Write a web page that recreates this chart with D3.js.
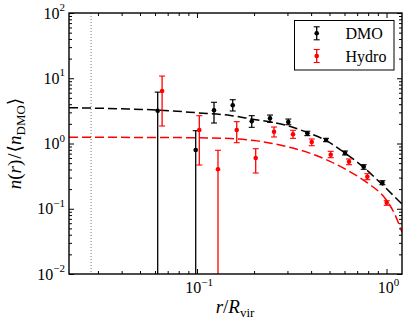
<!DOCTYPE html>
<html>
<head>
<meta charset="utf-8">
<script src="https://cdn.jsdelivr.net/npm/d3@7"></script>
<style>
  body { margin: 0; background: #fff; }
  svg { display: block; }
  text { font-family: "Liberation Serif", "DejaVu Serif", serif; fill: #000; }
</style>
</head>
<body>
<svg id="chart" width="407" height="326"></svg>
<script>
// ---- data ----
const dmoR   = [0.0620, 0.0984, 0.1229, 0.1543, 0.1944, 0.2427, 0.3032, 0.382, 0.4795, 0.604, 0.758, 0.951];
const dmoN   = [3.18, 0.795, 3.23, 3.85, 2.19, 2.43, 2.14, 1.43, 1.13, 0.715, 0.441, 0.2507];
const dmoHi  = [6.13, 1.571, 4.28, 4.69, 2.67, 2.73, 2.37, 1.54, 1.20, 0.768, 0.473, 0.269];
const dmoLo  = [0, 0, 2.06, 3.15, 1.77, 2.11, 1.94, 1.32, 1.066, 0.667, 0.402, 0.2336];

const hydroR  = [0.0654, 0.1028, 0.129, 0.162, 0.204, 0.2549, 0.3210, 0.4030, 0.5075, 0.634, 0.792, 1.0025];
const hydroN  = [6.38, 1.61, 0.402, 1.61, 0.5995, 1.516, 1.384, 1.054, 0.674, 0.526, 0.310, 0.1238];
const hydroHi = [10.8, 2.67, 0.787, 2.16, 0.832, 1.79, 1.594, 1.172, 0.759, 0.579, 0.3445, 0.1328];
const hydroLo = [1.854, 0.468, 0, 1.029, 0.353, 1.258, 1.201, 0.925, 0.606, 0.473, 0.279, 0.113];

const dmoFitR   = [0.0211, 0.04, 0.062, 0.1, 0.15, 0.2, 0.25, 0.3, 0.38, 0.48, 0.6, 0.76, 0.95, 1.207];
const dmoFitN   = [3.54, 3.40, 3.26, 2.96, 2.69, 2.34, 2.11, 1.88, 1.48, 1.11, 0.724, 0.427, 0.234, 0.118];
const hydroFitR = [0.0211, 0.05, 0.1, 0.15, 0.2, 0.25, 0.32, 0.4, 0.5, 0.63, 0.79, 1.0, 1.1, 1.207];
const hydroFitN = [1.245, 1.239, 1.225, 1.189, 1.109, 1.0, 0.851, 0.700, 0.537, 0.380, 0.251, 0.135, 0.085, 0.0437];

const resolutionR = 0.0276;

const xMajor = [0.1, 1];
const xMajorExp = ["−1", "0"];
const yMajor = [0.01, 0.1, 1, 10, 100];
const yMajorExp = ["−2", "−1", "0", "1", "2"];
const seriesNames = ["DMO", "Hydro"];
const seriesColors = ["#000000", "#ff0000"];

// ---- layout ----
const L = 69, R = 402, T = 13, B = 274;
const x = d3.scaleLog().domain([0.0211, 1.207]).range([L, R]);
const y = d3.scaleLog().domain([0.01, 100]).range([B, T]);

const svg = d3.select("#chart");
svg.append("defs").append("clipPath").attr("id", "clip")
  .append("rect").attr("x", L).attr("y", T).attr("width", R - L).attr("height", B - T);

const xMinor = [];
[0.01, 0.1].forEach(d => { for (let k = 2; k <= 9; k++) { const v = d * k; if (v > 0.0211 && v < 1.207) xMinor.push(v); } });
const yMinor = [];
[0.01, 0.1, 1, 10].forEach(d => { for (let k = 2; k <= 9; k++) yMinor.push(d * k); });

function styleAxis(g) {
  g.select(".domain").remove();
  g.selectAll("text").remove();
  g.selectAll("line").attr("stroke", "#000").attr("stroke-width", 1);
}
function addAxis(axisFn, scale, vals, size, tx, ty) {
  svg.append("g").attr("transform", `translate(${tx},${ty})`)
    .call(axisFn(scale).tickValues(vals).tickSize(-size).tickFormat(""))
    .call(styleAxis);
}
addAxis(d3.axisBottom, x, xMajor, 5, 0, B);
addAxis(d3.axisBottom, x, xMinor, 3, 0, B);
addAxis(d3.axisTop, x, xMajor, 5, 0, T);
addAxis(d3.axisTop, x, xMinor, 3, 0, T);
addAxis(d3.axisLeft, y, yMajor, 5, L, 0);
addAxis(d3.axisLeft, y, yMinor, 3, L, 0);
addAxis(d3.axisRight, y, yMajor, 5, R, 0);
addAxis(d3.axisRight, y, yMinor, 3, R, 0);

// tick labels
const fs = 16, sfs = 11;
yMajor.forEach((v, i) => {
  const t = svg.append("text").attr("x", 65).attr("y", y(v) + 5.5)
    .attr("text-anchor", "end").style("font-size", fs + "px");
  t.append("tspan").text("10");
  t.append("tspan").attr("dy", -7.5).style("font-size", sfs + "px").text(yMajorExp[i]);
});
xMajor.forEach((v, i) => {
  const t = svg.append("text").attr("x", x(v) + 2).attr("y", 293)
    .attr("text-anchor", "middle").style("font-size", fs + "px");
  t.append("tspan").text("10");
  t.append("tspan").attr("dy", -7.5).style("font-size", sfs + "px").text(xMajorExp[i]);
});

// plot contents
const plot = svg.append("g").attr("clip-path", "url(#clip)");

plot.append("line")
  .attr("x1", x(resolutionR)).attr("x2", x(resolutionR))
  .attr("y1", T).attr("y2", B)
  .attr("stroke", "#777").attr("stroke-width", 1).attr("stroke-dasharray", "1,2");

const line = d3.line().x(d => x(d[0])).y(d => y(d[1])).curve(d3.curveMonotoneX);
plot.append("path").datum(dmoFitR.map((r, i) => [r, dmoFitN[i]]))
  .attr("d", line).attr("fill", "none").attr("stroke", seriesColors[0])
  .attr("stroke-width", 1.5).attr("stroke-dasharray", "9,4");
plot.append("path").datum(hydroFitR.map((r, i) => [r, hydroFitN[i]]))
  .attr("d", line).attr("fill", "none").attr("stroke", seriesColors[1])
  .attr("stroke-width", 1.5).attr("stroke-dasharray", "9,4");

function drawErr(rs, ns, his, los, color) {
  const g = plot.append("g");
  const cap = 3;
  rs.forEach((r, i) => {
    const cx = x(r);
    const yTop = y(his[i]);
    const yBot = los[i] > 0.01 ? y(los[i]) : B + 5;
    g.append("line").attr("x1", cx).attr("x2", cx).attr("y1", yTop).attr("y2", yBot)
      .attr("stroke", color).attr("stroke-width", 1.3);
    g.append("line").attr("x1", cx - cap).attr("x2", cx + cap).attr("y1", yTop).attr("y2", yTop)
      .attr("stroke", color).attr("stroke-width", 1.1);
    if (los[i] > 0.01) g.append("line").attr("x1", cx - cap).attr("x2", cx + cap).attr("y1", yBot).attr("y2", yBot)
      .attr("stroke", color).attr("stroke-width", 1.1);
    g.append("circle").attr("cx", cx).attr("cy", y(ns[i])).attr("r", 2.3).attr("fill", color);
  });
}
drawErr(dmoR, dmoN, dmoHi, dmoLo, seriesColors[0]);
drawErr(hydroR, hydroN, hydroHi, hydroLo, seriesColors[1]);

// frame
svg.append("rect").attr("x", L).attr("y", T).attr("width", R - L).attr("height", B - T)
  .attr("fill", "none").attr("stroke", "#000").attr("stroke-width", 1.4);

// legend
const lg = svg.append("g");
lg.append("rect").attr("x", 294.5).attr("y", 20.5).attr("width", 99.5).attr("height", 49.5)
  .attr("fill", "#fff").attr("stroke", "#000").attr("stroke-width", 1);
seriesNames.forEach((name, i) => {
  const cy = 33.3 + i * 22.7;
  const cx = 316.7;
  const c = seriesColors[i];
  lg.append("line").attr("x1", cx).attr("x2", cx).attr("y1", cy - 6.5).attr("y2", cy + 6.5).attr("stroke", c).attr("stroke-width", 1.3);
  lg.append("line").attr("x1", cx - 3).attr("x2", cx + 3).attr("y1", cy - 6.5).attr("y2", cy - 6.5).attr("stroke", c).attr("stroke-width", 1.1);
  lg.append("line").attr("x1", cx - 3).attr("x2", cx + 3).attr("y1", cy + 6.5).attr("y2", cy + 6.5).attr("stroke", c).attr("stroke-width", 1.1);
  lg.append("circle").attr("cx", cx).attr("cy", cy).attr("r", 2.3).attr("fill", c);
  lg.append("text").attr("x", 345.5).attr("y", cy + 5.5).style("font-size", "16px").text(name);
});

// axis labels
const xl = svg.append("text").attr("x", 235).attr("y", 313).attr("text-anchor", "middle").style("font-size", "19px");
xl.append("tspan").style("font-style", "italic").text("r");
xl.append("tspan").text("/");
xl.append("tspan").style("font-style", "italic").text("R");
xl.append("tspan").attr("dy", 4).style("font-size", "13px").text("vir");

const yl = svg.append("text").attr("transform", "translate(21,143.5) rotate(-90)")
  .attr("text-anchor", "middle").style("font-size", "19px");
yl.append("tspan").style("font-style", "italic").text("n");
yl.append("tspan").text("(");
yl.append("tspan").style("font-style", "italic").text("r");
yl.append("tspan").text(")");
yl.append("tspan").attr("dx", 1).text("/");
yl.append("tspan").attr("dx", 1).text("⟨");
yl.append("tspan").style("font-style", "italic").text("n");
yl.append("tspan").attr("dy", 4).style("font-size", "13px").text("DMO");
yl.append("tspan").attr("dy", -4).text("⟩");
</script>
</body>
</html>
